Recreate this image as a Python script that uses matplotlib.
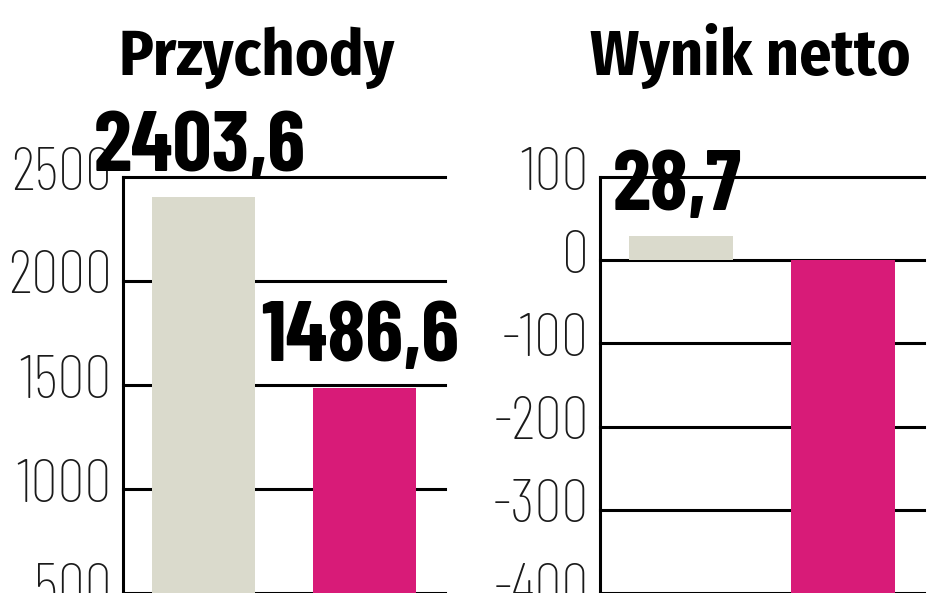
import matplotlib
matplotlib.use("Agg")
import matplotlib.pyplot as plt
from matplotlib import font_manager
from matplotlib.transforms import ScaledTranslation

# ---- data ----
titles = ["Przychody", "Wynik netto"]
revenue = [2403.6, 1486.6]
revenue_labels = ["2403,6", "1486,6"]
net = [28.7, -470.0]
net_labels = ["28,7", None]
left_ticks = [500, 1000, 1500, 2000, 2500]
right_ticks = [-400, -300, -200, -100, 0, 100]

colors = ["#dadacc", "#d81b78"]

avail = {f.name for f in font_manager.fontManager.ttflist}


def pick(*cands):
    for c in cands:
        if c in avail:
            return c
    return "DejaVu Sans"


F_TITLE = pick("Fira Sans Condensed", "Barlow Condensed", "Asap Condensed", "Roboto Condensed")
F_VALUE = pick("Barlow Condensed", "Saira Condensed", "Fira Sans Condensed", "Roboto Condensed")
F_TICK = pick("Barlow Condensed", "Saira Condensed", "Fira Sans Condensed", "Roboto Condensed")

W, H = 948, 593
fig = plt.figure(figsize=(W / 100, H / 100), dpi=100)
fig.patch.set_facecolor("white")


def px_ax(x0, x1, ytop):
    return [x0 / W, 0.0, (x1 - x0) / W, 1 - ytop / H]


def setup(ax, vals, labels, ticks, ylim):
    ax.set_xlim(-0.5, 1.5)
    ax.set_ylim(*ylim)
    ax.bar([0, 1], vals, width=0.64, color=colors, zorder=3)
    ax.set_axisbelow(True)
    for s in ["top", "right", "bottom"]:
        ax.spines[s].set_visible(False)
    ax.spines["left"].set_linewidth(2.2)
    ax.spines["left"].set_color("black")
    ax.set_xticks([])
    ax.set_yticks(ticks)
    ax.set_yticklabels([f"{t}" for t in ticks])
    ax.tick_params(axis="y", length=0, pad=8, labelsize=44, colors="#1a1a1a")
    off = ScaledTranslation(0, 9 / 100, fig.dpi_scale_trans)
    for lab in ax.get_yticklabels():
        lab.set_fontfamily(F_TICK)
        lab.set_fontweight("light")
        lab.set_transform(lab.get_transform() + off)
    ax.yaxis.grid(True, color="black", linewidth=2.2)
    ax.xaxis.grid(False)
    for gl in ax.get_ygridlines():
        gl.set_clip_on(False)
    for i, (v, t) in enumerate(zip(vals, labels)):
        if t is None:
            continue
        ax.annotate(t, (i, v), xytext=(-3, 19), textcoords="offset points",
                    ha="center", va="baseline", fontsize=62, fontweight="bold",
                    family=F_VALUE, color="black",
                    annotation_clip=False, zorder=5)


ax1 = fig.add_axes(px_ax(123, 445, 177))
setup(ax1, revenue, revenue_labels, left_ticks, (562, 2500))
ax2 = fig.add_axes(px_ax(600, 924, 177))
setup(ax2, net, net_labels, right_ticks, (-363.5, 100))

fig.text(257 / W, 1 - 75 / H, titles[0], ha="center", va="baseline",
         fontsize=46, fontweight="bold", family=F_TITLE)
fig.text(750 / W, 1 - 75 / H, titles[1], ha="center", va="baseline",
         fontsize=46, fontweight="bold", family=F_TITLE)

fig.savefig("out.png", dpi=100, facecolor="white")
